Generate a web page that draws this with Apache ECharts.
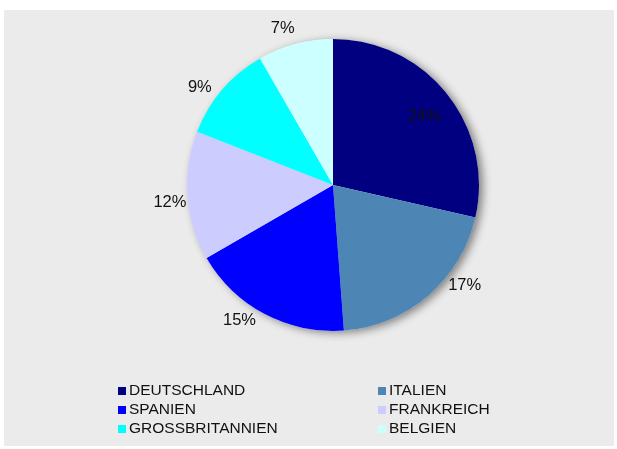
<!DOCTYPE html>
<html>
<head>
<meta charset="utf-8">
<script src="https://cdn.jsdelivr.net/npm/echarts@6/dist/echarts.min.js"></script>
<style>
  html, body { margin: 0; padding: 0; background: #fff; }
  #chart { width: 617px; height: 449px; }
</style>
</head>
<body>
<div id="chart"></div>
<script>
    // Länder und Anteile (in %)
    let countries = ['DEUTSCHLAND', 'ITALIEN', 'SPANIEN', 'FRANKREICH', 'GROSSBRITANNIEN', 'BELGIEN']
    let shares = [24, 17, 15, 12, 9, 7]
    let colors = ['#000080', '#4d86b4', '#0000ff', '#ccccff', '#00ffff', '#ccffff']

    // Legende in zwei Spalten
    let legendLeft = ['DEUTSCHLAND', 'SPANIEN', 'GROSSBRITANNIEN']
    let legendRight = ['ITALIEN', 'FRANKREICH', 'BELGIEN']

    // kleine Verschiebungen der Beschriftungen (wie im Original)
    let labelNudge = [[32, -21], [14, -15], [-4, 1], [7, 6], [-4, 2], [3, -10]]

    let total = shares.reduce((a, b) => a + b, 0)
    let chart = echarts.init(document.getElementById('chart'))

    let legendBase = {
        orient: 'vertical',
        top: 383,
        icon: 'rect',
        itemWidth: 8,
        itemHeight: 8,
        itemGap: 3,
        padding: 0,
        textStyle: { color: '#111', fontFamily: 'Liberation Sans, Arial', fontSize: 15.5, padding: [0, 0, 0, -2] }
    }

    chart.setOption({
        animation: false,
        color: colors,
        graphic: [{
            type: 'rect', z: -10, silent: true,
            shape: { x: 4, y: 10, width: 610, height: 436 },
            style: { fill: '#ebebeb' }
        }],
        legend: [
            Object.assign({ left: 118, data: legendLeft }, legendBase),
            Object.assign({ left: 378, data: legendRight }, legendBase)
        ],
        series: [
            {
                // nur Schatten hinter dem Kreis
                type: 'pie', silent: true, z: 1,
                center: [333, 185], radius: 146,
                label: { show: false }, labelLine: { show: false },
                itemStyle: { color: '#ebebeb', shadowBlur: 8, shadowOffsetX: 4, shadowOffsetY: 2, shadowColor: 'rgba(0,0,0,0.45)' },
                data: [{ name: '', value: total }]
            },
            {
                type: 'pie', z: 2,
                center: [333, 185], radius: 146,
                startAngle: 90, clockwise: true,
                label: {
                    show: true, position: 'outside', formatter: '{c}%',
                    color: '#111', fontFamily: 'Liberation Sans, Arial', fontSize: 16.5,
                    distanceToLabelLine: 2
                },
                labelLine: { show: false, length: 6, length2: 0 },
                labelLayout: p => {
                    let n = labelNudge[p.dataIndex] || [0, 0]
                    return { dx: n[0], dy: n[1] }
                },
                itemStyle: { borderWidth: 0 },
                data: countries.map((n, i) => ({
                    name: n, value: shares[i],
                    label: i === 0 ? { position: 'inside' } : undefined
                }))
            }
        ]
    })
</script>
</body>
</html>
